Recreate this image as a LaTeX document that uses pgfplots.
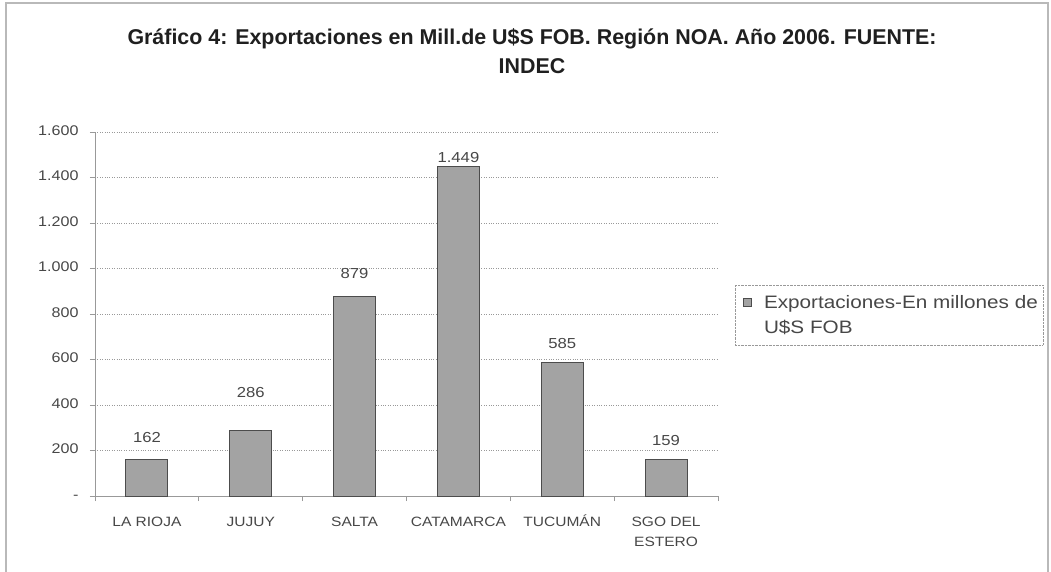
\documentclass[border=0pt]{standalone}
\usepackage{fontspec}
\setmainfont{Liberation Sans}
\newfontfamily\widefont[FakeStretch=1.15]{Liberation Sans}
\usepackage{pgfplots}
\pgfplotsset{compat=1.18}
\pgfplotsset{sqlegend/.style={legend image code/.code={\path (-5pt,0pt) (18pt,0pt);\draw[##1, line width=0.6pt] (0pt,8.5pt) rectangle (8pt,16.5pt);}}}
\definecolor{txt}{gray}{0.28}
\definecolor{titc}{gray}{0.12}
\definecolor{barfill}{gray}{0.64}
\definecolor{baredge}{gray}{0.3}
\definecolor{gridc}{gray}{0.6}
\begin{document}
\begin{tikzpicture}[x=1pt,y=1pt]
\useasboundingbox (0,0) rectangle (1051,571);
\draw[gray!55, line width=2pt] (6,-5) -- (6,568) -- (1048,568) -- (1048,-5);
\node[font=\bfseries\fontsize{21.4}{29}\selectfont, text=titc, align=center] at (532,520)
  {Gráfico 4: Exportaciones en Mill.de U\$S FOB. Región NOA. Año 2006. FUENTE:\\INDEC};
\begin{axis}[
  at={(95pt,75pt)}, anchor=south west, scale only axis,
  width=623pt, height=364pt,
  xmin=-0.5, xmax=5.5, ymin=0, ymax=1600,
  axis x line*=bottom, axis y line*=left,
  axis line style={gridc, line width=0.8pt},
  ytick={0,200,...,1600},
  yticklabels={-\hspace{23pt},200,400,600,800,1.000,1.200,1.400,1.600},
  ymajorgrids,
  grid style={gridc, dotted, line width=0.8pt},
  xtick={-0.5,0.5,...,5.5},
  x tick label as interval,
  xticklabels={LA RIOJA,JUJUY,SALTA,CATAMARCA,TUCUMÁN,SGO DEL\\ESTERO},
  typeset ticklabels with strut,
  tick align=outside,
  major tick length=5pt,
  tick style={gridc, line width=0.8pt},
  x tick label style={font=\widefont\fontsize{13.5}{20}\selectfont, text=txt, align=center, yshift=-8pt},
  y tick label style={font=\widefont\fontsize{14}{16}\selectfont, text=txt, xshift=-8pt},
  legend style={at={(1.027,0.5797)}, anchor=north west, draw=gridc, densely dotted,
    font=\widefont\fontsize{18}{25}\selectfont, text=txt, cells={align=left}, inner xsep=3pt, inner ysep=8pt},
]
\addplot[ybar, bar width=42pt, fill=barfill, draw=baredge, line width=1pt, solid, sqlegend]
  coordinates {(0,162) (1,286) (2,879) (3,1449) (4,585) (5,159)};
\addlegendentry{Exportaciones-En millones de\\U\$S FOB}
\addplot[draw=none, mark=none, forget plot, nodes near coords, point meta=explicit symbolic,
  every node near coord/.append style={anchor=center, font=\widefont\fontsize{14.5}{16}\selectfont, text=txt}]
  coordinates {(0,255)[162] (1,457)[286] (2,980)[879] (3,1490)[1.449] (4,672)[585] (5,246)[159]};
\end{axis}
\end{tikzpicture}
\end{document}
